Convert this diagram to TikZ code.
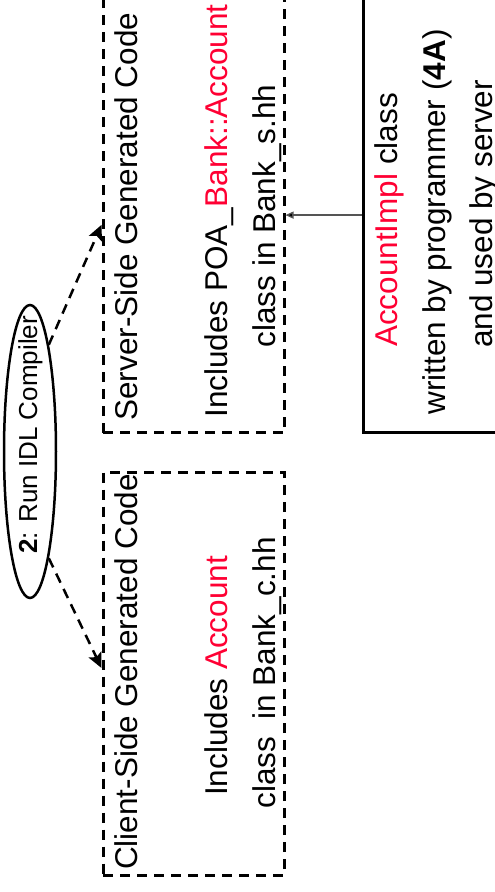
\documentclass[tikz,border=0pt]{standalone}
\usepackage{fontspec}
\setmainfont{Liberation Sans}
\usetikzlibrary{shapes.geometric,arrows.meta}
\definecolor{accred}{RGB}{255,0,51}
\definecolor{linkgrey}{RGB}{85,85,85}
\begin{document}
\begin{tikzpicture}[x=1pt,y=-1pt,
  dbox/.style={draw, dash pattern=on 10pt off 7pt, line width=3pt, inner sep=0pt, minimum width=181pt},
  sbox/.style={draw, line width=3pt, inner sep=0pt},
  txt/.style={rotate=90, anchor=base, inner sep=0pt, font=\fontsize{31.5}{36}\selectfont},
  smalltxt/.style={rotate=90, anchor=base, inner sep=0pt, font=\fontsize{26}{30}\selectfont},
  darr/.style={dash pattern=on 10pt off 7pt, line width=2.5pt, -{Stealth[length=15pt,width=14pt,inset=3pt]}},
  garr/.style={draw=linkgrey, line width=1.3pt, -{Triangle[length=8pt,width=7pt,fill=black]}}
]
\useasboundingbox (0,0) rectangle (495,892);
\clip (0,0) rectangle (495,892);

% boxes
\node[dbox, minimum height=435.7pt] (srv) at (193.5,214.85) {};
\node[dbox, minimum height=402.7pt] (cli) at (193.5,673.65) {};
\node[sbox, minimum width=157pt, minimum height=435.2pt] (impl) at (441.5,215.1) {};

% server texts
\node[txt] (s1) at (137,216.7) {Server-Side Generated Code};
\node[txt] (s2) at (227,211) {Includes POA\_{\color{accred}Bank::Account}};
\node[txt] (s3) at (275,216) {class in Bank\_s.hh};

% client texts
\node[txt] (c1) at (137,672) {Client-Side Generated Code};
\node[txt] (c2) at (227,676) {Includes {\color{accred}Account}};
\node[txt] (c3) at (275,673) {class\ \ in Bank\_c.hh};

% impl texts
\node[txt] (i1) at (397,220) {{\color{accred}AccountImpl} class};
\node[txt] (i2) at (445,222) {written by programmer (\textbf{4A})};
\node[txt] (i3) at (492,214) {and used by server};

% IDL compiler ellipse
\node[ellipse, draw, line width=2.5pt, minimum width=293pt, minimum height=52pt, rotate=90, inner sep=0pt] (ell) at (30,451.5) {};
\node[smalltxt] (ellt) at (37,435) {\textbf{2}: Run IDL Compiler};

% connectors
\draw[darr] (ell.-10) -- ([yshift=-10pt]srv.west);
\draw[darr] (ell.190) -- ([yshift=5.65pt]cli.west);
\draw[garr] (impl.west) -- (impl.west -| srv.east);
\end{tikzpicture}
\end{document}
